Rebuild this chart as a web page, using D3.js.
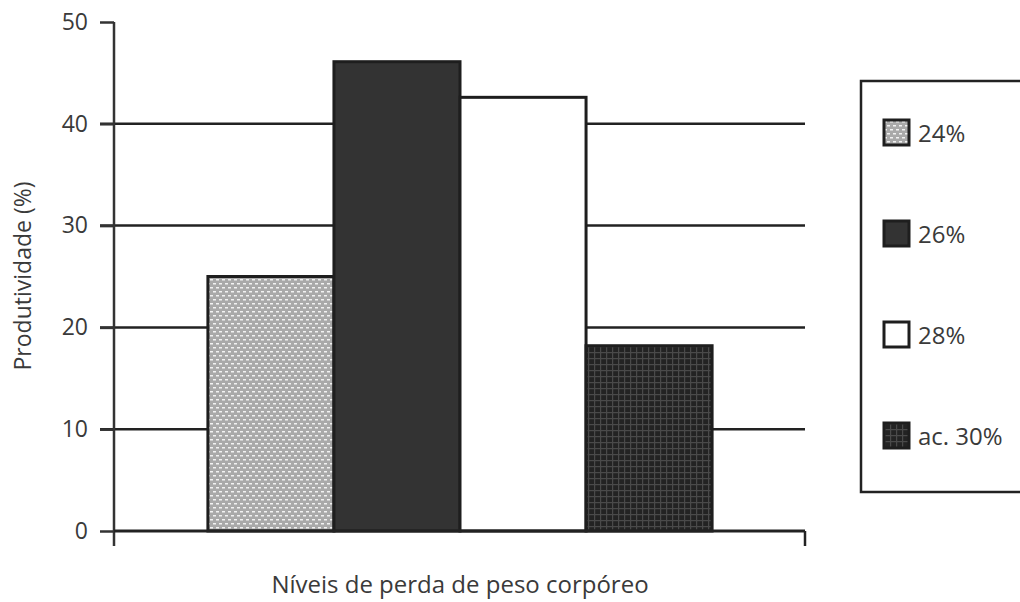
<!DOCTYPE html>
<html>
<head>
<meta charset="utf-8">
<script src="https://cdn.jsdelivr.net/npm/d3@7"></script>
<style>
  body { margin: 0; background: #fff; }
  text { font-family: "Open Sans", Lato, sans-serif; fill: #3a3a3a; }
</style>
</head>
<body>
<div id="chart"></div>
<script>
// data
var categories = ["24%", "26%", "28%", "ac. 30%"];
var values = [25, 46.1, 42.6, 18.2];
var yTicks = [0, 10, 20, 30, 40, 50];
var fills = ["url(#dots)", "#333333", "#ffffff", "url(#grid)"];

var svgWidth = 1020;
var svgHeight = 602;
var margin = { top: 22, right: 214, bottom: 71, left: 114 };
var width = svgWidth - margin.left - margin.right;
var height = svgHeight - margin.top - margin.bottom;

var svg = d3.select("#chart")
  .append("svg")
  .attr("width", svgWidth)
  .attr("height", svgHeight);

// patterns
var defs = svg.append("defs");
var dots = defs.append("pattern")
  .attr("id", "dots")
  .attr("patternUnits", "userSpaceOnUse")
  .attr("width", 6).attr("height", 8);
dots.append("rect").attr("width", 6).attr("height", 8).attr("fill", "#a9a9a9");
dots.append("rect").attr("x", 0).attr("y", 1).attr("width", 3).attr("height", 1.5).attr("fill", "#f2f2f2");
dots.append("rect").attr("x", 3).attr("y", 5).attr("width", 3).attr("height", 1.5).attr("fill", "#f2f2f2");

var grid = defs.append("pattern")
  .attr("id", "grid")
  .attr("patternUnits", "userSpaceOnUse")
  .attr("width", 6).attr("height", 6);
grid.append("rect").attr("width", 6).attr("height", 6).attr("fill", "#232323");
grid.append("rect").attr("x", 0).attr("y", 0).attr("width", 1.2).attr("height", 6).attr("fill", "#4a4a4a");
grid.append("rect").attr("x", 0).attr("y", 0).attr("width", 6).attr("height", 1.2).attr("fill", "#4a4a4a");

var chartGroup = svg.append("g")
  .attr("transform", `translate(${margin.left}, ${margin.top})`);

var xScale = d3.scaleBand()
  .domain(categories)
  .range([0, width])
  .paddingInner(0)
  .paddingOuter(0.745);

var yScale = d3.scaleLinear()
  .domain([0, 50])
  .range([height, 0]);

// gridlines
chartGroup.selectAll(".gridline")
  .data(yTicks.filter(d => d > 0 && d < 50))
  .enter()
  .append("line")
  .attr("x1", -14)
  .attr("x2", width - 1)
  .attr("y1", d => yScale(d))
  .attr("y2", d => yScale(d))
  .attr("stroke", "#222")
  .attr("stroke-width", 2.5);

// bars
chartGroup.selectAll("rect.bar")
  .data(values)
  .enter()
  .append("rect")
  .attr("class", "bar")
  .attr("x", (d, i) => xScale(categories[i]))
  .attr("y", d => yScale(d))
  .attr("width", xScale.bandwidth())
  .attr("height", d => height - yScale(d))
  .attr("fill", (d, i) => fills[i])
  .attr("stroke", "#1e1e1e")
  .attr("stroke-width", 3);

// y axis
var leftAxis = d3.axisLeft(yScale).tickValues(yTicks).tickSize(14).tickPadding(12);
var yAxis = chartGroup.append("g").call(leftAxis);
yAxis.select(".domain").remove();
yAxis.selectAll(".tick line").attr("stroke", "#333").attr("stroke-width", 2.5);
yAxis.selectAll(".tick text").attr("font-size", 23).style("font-family", "'Open Sans', Lato, sans-serif").attr("fill", "#3a3a3a");
chartGroup.append("line")
  .attr("x1", 0).attr("x2", 0)
  .attr("y1", 0).attr("y2", height + 15)
  .attr("stroke", "#333").attr("stroke-width", 2.5);

// x axis
chartGroup.append("line")
  .attr("x1", 0).attr("x2", width - 1)
  .attr("y1", height).attr("y2", height)
  .attr("stroke", "#222").attr("stroke-width", 3);
chartGroup.append("line")
  .attr("x1", width - 1).attr("x2", width - 1)
  .attr("y1", height).attr("y2", height + 15)
  .attr("stroke", "#222").attr("stroke-width", 2.5);

// axis titles
svg.append("text")
  .attr("x", 460)
  .attr("y", 593)
  .attr("text-anchor", "middle")
  .attr("font-size", 24)
  .text("Níveis de perda de peso corpóreo");

svg.append("text")
  .attr("transform", "translate(31, 276) rotate(-90)")
  .attr("text-anchor", "middle")
  .attr("font-size", 23)
  .text("Produtividade (%)");

// legend
var legend = svg.append("g");
legend.append("rect")
  .attr("x", 861).attr("y", 81)
  .attr("width", 180).attr("height", 411)
  .attr("fill", "none")
  .attr("stroke", "#222").attr("stroke-width", 2.5);

var legendItems = legend.selectAll(".item")
  .data(categories)
  .enter()
  .append("g")
  .attr("transform", (d, i) => `translate(884, ${120 + i * 101})`);

legendItems.append("rect")
  .attr("width", 25).attr("height", 25)
  .attr("fill", (d, i) => fills[i])
  .attr("stroke", "#1e1e1e").attr("stroke-width", 3);

legendItems.append("text")
  .attr("x", 34)
  .attr("y", 22)
  .attr("font-size", 24)
  .text(d => d);
</script>
</body>
</html>
